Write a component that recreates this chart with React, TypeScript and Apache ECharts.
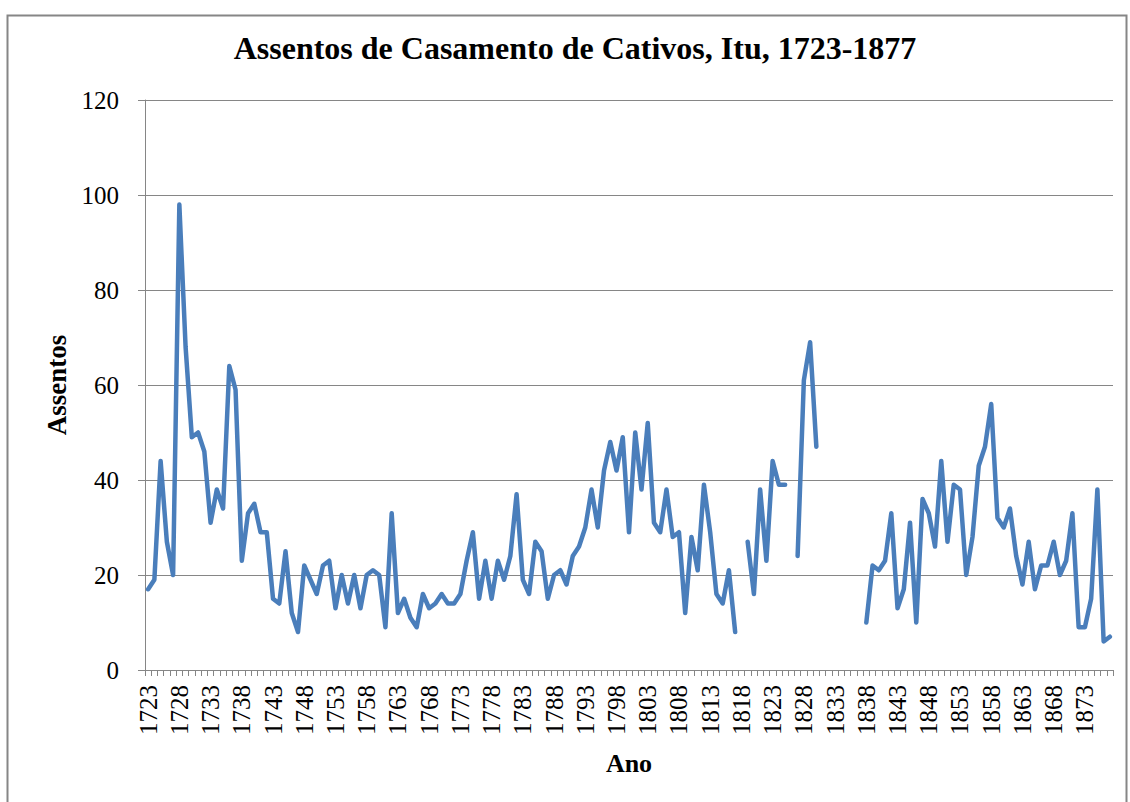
import React, { useEffect, useRef } from "react";
import * as echarts from "echarts";

const FIRST_YEAR = 1723;
const LAST_YEAR = 1877;
const years: string[] = Array.from(
  { length: LAST_YEAR - FIRST_YEAR + 1 },
  (_, i) => String(FIRST_YEAR + i)
);

// Assentos por ano (null = sem registro)
const assentos1723_1762: (number | null)[] = [
  17, 19, 44, 27, 20, 98, 68, 49, 50, 46,
  31, 38, 34, 64, 59, 23, 33, 35, 29, 29,
  15, 14, 25, 12, 8, 22, 19, 16, 22, 23,
  13, 20, 14, 20, 13, 20, 21, 20, 9, 33,
];
const assentos1763_1802: (number | null)[] = [
  12, 15, 11, 9, 16, 13, 14, 16, 14, 14,
  16, 23, 29, 15, 23, 15, 23, 19, 24, 37,
  19, 16, 27, 25, 15, 20, 21, 18, 24, 26,
  30, 38, 30, 42, 48, 42, 49, 29, 50, 38,
];
const assentos1803_1842: (number | null)[] = [
  52, 31, 29, 38, 28, 29, 12, 28, 21, 39,
  29, 16, 14, 21, 8, null, 27, 16, 38, 23,
  44, 39, 39, null, 24, 61, 69, 47, null, null,
  null, null, null, null, null, 10, 22, 21, 23, 33,
];
const assentos1843_1877: (number | null)[] = [
  13, 17, 31, 10, 36, 33, 26, 44, 27, 39,
  38, 20, 28, 43, 47, 56, 32, 30, 34, 24,
  18, 27, 17, 22, 22, 27, 20, 23, 33, 9,
  9, 15, 38, 6, 7,
];
const assentos = [
  ...assentos1723_1762,
  ...assentos1763_1802,
  ...assentos1803_1842,
  ...assentos1843_1877,
];

const TITLE = "Assentos de Casamento de Cativos, Itu, 1723-1877";
const Y_NAME = "Assentos";
const X_NAME = "Ano";
const Y_MIN = 0;
const Y_MAX = 120;
const Y_STEP = 20;

const SERIF = "'Liberation Serif', 'Times New Roman', serif";
const GREY = "#868686";
const BLUE = "#4a7ebb";

export default function App() {
  const ref = useRef<HTMLDivElement>(null);
  useEffect(() => {
    if (!ref.current) return;
    const chart = echarts.init(ref.current, undefined, { renderer: "svg" });
    chart.setOption({
      animation: false,
      backgroundColor: "#ffffff",
      textStyle: { fontFamily: SERIF, color: "#000" },
      grid: { left: 145, right: 17, top: 100, bottom: 132, containLabel: false },
      xAxis: {
        type: "category",
        data: years,
        boundaryGap: true,
        name: X_NAME,
        nameLocation: "middle",
        nameGap: 80,
        nameTextStyle: { fontFamily: SERIF, fontWeight: "bold", fontSize: 26, color: "#000" },
        axisLine: { show: true, lineStyle: { color: GREY, width: 1 } },
        axisTick: { show: true, interval: 0, length: 6, lineStyle: { color: GREY, width: 1 } },
        axisLabel: {
          interval: 4,
          rotate: 90,
          margin: 15,
          fontSize: 25,
          color: "#000",
          fontFamily: SERIF,
        },
        splitLine: { show: false },
      },
      yAxis: {
        type: "value",
        min: Y_MIN,
        max: Y_MAX,
        interval: Y_STEP,
        name: Y_NAME,
        nameLocation: "middle",
        nameGap: 74,
        nameRotate: 90,
        nameTextStyle: { fontFamily: SERIF, fontWeight: "bold", fontSize: 27, color: "#000" },
        axisLine: { show: true, lineStyle: { color: GREY, width: 1 } },
        axisTick: { show: true, length: 7, lineStyle: { color: GREY, width: 1 } },
        axisLabel: { margin: 26, fontSize: 25, color: "#000", fontFamily: SERIF },
        splitLine: { show: true, lineStyle: { color: GREY, width: 1 } },
      },
      series: [
        {
          type: "line",
          data: assentos,
          showSymbol: false,
          symbol: "none",
          connectNulls: false,
          lineStyle: { color: BLUE, width: 4.5, cap: "round", join: "round" },
          itemStyle: { color: BLUE },
        },
      ],
      graphic: [
        {
          type: "rect",
          left: 5,
          top: 13,
          shape: { x: 0, y: 0, width: 1119, height: 800 },
          style: { fill: "none", stroke: GREY, lineWidth: 2 },
          silent: true,
        },
        {
          type: "text",
          x: 575,
          y: 48,
          style: {
            text: TITLE,
            font: `bold 32px ${SERIF}`,
            fill: "#000",
            textAlign: "center",
            textVerticalAlign: "middle",
          },
          silent: true,
        },
      ],
    });
    return () => chart.dispose();
  }, []);
  return (
    <div
      ref={ref}
      style={{ position: "absolute", left: 0, top: 0, width: 1130, height: 802 }}
    />
  );
}
